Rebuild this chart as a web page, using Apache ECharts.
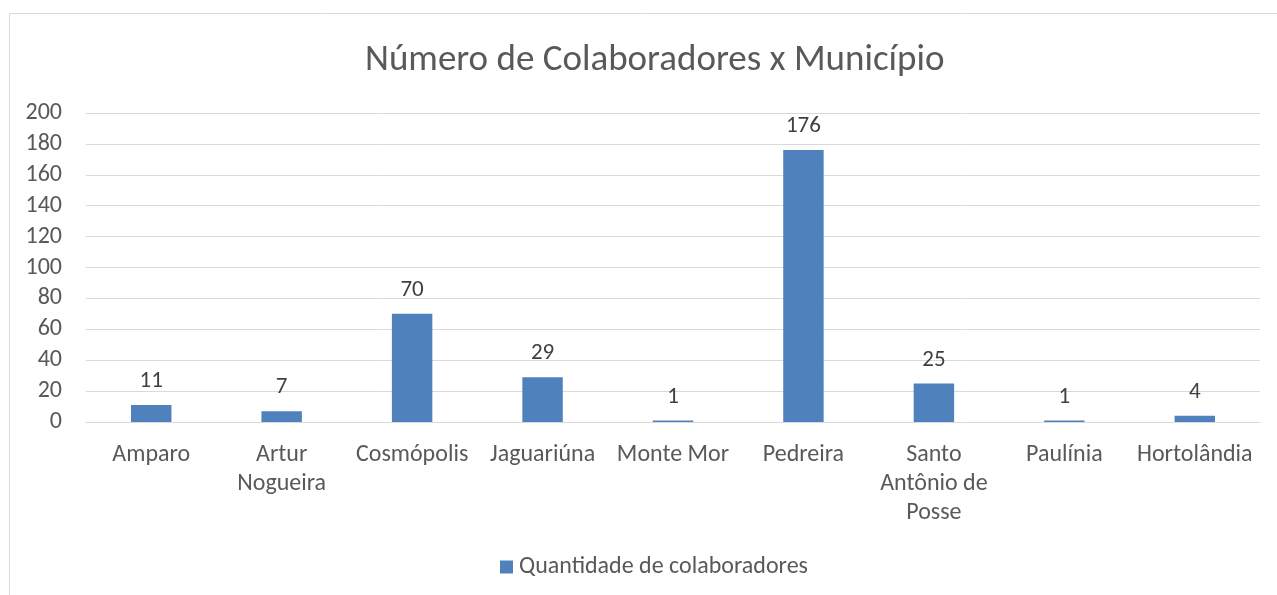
<!DOCTYPE html>
<html>
<head>
<meta charset="utf-8">
<script src="https://cdn.jsdelivr.net/npm/echarts@6/dist/echarts.min.js"></script>
<style>
  html, body { margin: 0; padding: 0; background: #fff; }
  #chart { width: 1277px; height: 595px; }
</style>
</head>
<body>
<div id="chart"></div>
<script>
// Municipalities (multi-line names wrap the way they are shown under the axis)
const municipios = ['Amparo', 'Artur\nNogueira', 'Cosmópolis', 'Jaguariúna', 'Monte Mor', 'Pedreira', 'Santo\nAntônio de\nPosse', 'Paulínia', 'Hortolândia'];
// Number of employees per municipality
const colaboradores = [11, 7, 70, 29, 1, 176, 25, 1, 4];
const yTicks = [0, 20, 40, 60, 80, 100, 120, 140, 160, 180, 200];

const FONT = 'Carlito, Lato, "Open Sans", sans-serif';
const chart = echarts.init(document.getElementById('chart'), null, { renderer: 'canvas' });

chart.setOption({
  backgroundColor: '#ffffff',
  animation: false,
  graphic: [{
    type: 'rect',
    shape: { x: 9.5, y: 13.5, width: 1300, height: 700 },
    style: { fill: 'none', stroke: '#d9d9d9', lineWidth: 1 },
    silent: true
  }],
  title: {
    text: 'Número de Colaboradores x Município',
    left: 360,
    top: 37,
    textStyle: { fontFamily: FONT, fontSize: 37, fontWeight: 'normal', color: '#595959' }
  },
  legend: {
    bottom: 11,
    left: 495,
    itemWidth: 13,
    itemHeight: 13,
    itemGap: 4,
    icon: 'rect',
    textStyle: { fontFamily: FONT, fontSize: 24, color: '#595959', padding: [0, 0, 0, 1] },
    data: ['Quantidade de colaboradores']
  },
  grid: { left: 86, right: 17, top: 113, bottom: 173, containLabel: false },
  xAxis: {
    type: 'category',
    data: municipios,
    axisLine: { show: true, lineStyle: { color: '#d9d9d9', width: 1 } },
    axisTick: { show: false },
    axisLabel: {
      interval: 0,
      margin: 18,
      fontFamily: FONT,
      fontSize: 24,
      color: '#595959',
      lineHeight: 29
    }
  },
  yAxis: {
    type: 'value',
    min: yTicks[0],
    max: yTicks[yTicks.length - 1],
    interval: 20,
    axisLine: { show: false },
    axisTick: { show: false },
    splitLine: { lineStyle: { color: '#d9d9d9', width: 1 } },
    axisLabel: { fontFamily: FONT, fontSize: 24, color: '#595959', margin: 24 }
  },
  series: [{
    name: 'Quantidade de colaboradores',
    type: 'bar',
    data: colaboradores,
    barWidth: '31%',
    itemStyle: { color: '#4f81bd' },
    label: {
      show: true,
      position: 'top',
      distance: 12,
      fontFamily: FONT,
      fontSize: 23,
      color: '#404040'
    }
  }]
});
</script>
</body>
</html>
